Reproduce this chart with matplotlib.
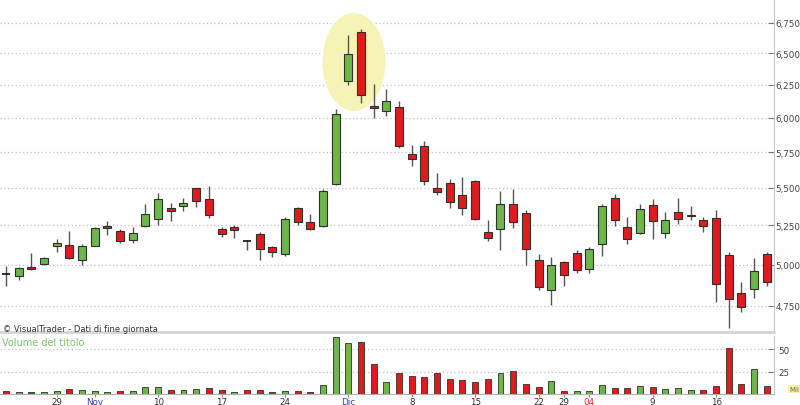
"""
Daily candlestick chart with volume panel (VisualTrader style).
Saves out.png (800x406).
"""
import matplotlib.pyplot as plt
import numpy as np
from matplotlib.patches import Ellipse
from matplotlib.ticker import FixedLocator, FuncFormatter, NullLocator

# OHLC, one value per trading day (29 Oct is index 4)
opens = [4943, 4930, 4986, 5006, 5120, 5126, 5028, 5120, 5244, 5216,
         5156, 5244, 5293, 5365, 5376, 5498, 5426, 5225, 5242, 5149,
         5197, 5111, 5064, 5365, 5275, 5244, 5528, 6281, 6673, 6090,
         6049, 6078, 5734, 5791, 5500, 5535, 5453, 5546, 5210, 5229,
         5390, 5333, 5028, 4848, 5019, 5072, 4974, 5128, 5432, 5242,
         5199, 5383, 5199, 5336, 5309, 5288, 5297, 5062, 4827, 4852, 5064]
highs = [4994, 4988, 5070, 5047, 5160, 5216, 5133, 5237, 5279, 5224,
         5239, 5390, 5466, 5399, 5432, 5500, 5516, 5242, 5255, 5153,
         5210, 5120, 5302, 5370, 5322, 5493, 6068, 6650, 6700, 6255,
         6221, 6127, 5798, 5827, 5604, 5560, 5576, 5551, 5288, 5478,
         5495, 5351, 5064, 5047, 5022, 5094, 5111, 5390, 5456, 5304,
         5390, 5424, 5340, 5431, 5376, 5302, 5351, 5077, 4893, 5043, 5079]
lows = [4867, 4905, 4966, 5000, 5081, 5037, 4996, 5120, 5185, 5139,
        5137, 5241, 5252, 5279, 5343, 5374, 5299, 5173, 5171, 5090,
        5030, 5045, 5053, 5252, 5220, 5239, 5523, 6252, 6113, 6002,
        6013, 5778, 5651, 5523, 5453, 5365, 5316, 5284, 5146, 5090,
        5235, 5000, 4848, 4754, 4871, 4950, 4950, 5053, 5244, 5128,
        5197, 5165, 5171, 5259, 5282, 5210, 4772, 4620, 4712, 4800, 4867]
closes = [4943, 4980, 4974, 5043, 5137, 5043, 5115, 5231, 5233, 5149,
          5199, 5322, 5426, 5343, 5401, 5410, 5320, 5194, 5218, 5149,
          5098, 5079, 5290, 5275, 5225, 5482, 6029, 6492, 6170, 6075,
          6125, 5793, 5701, 5546, 5475, 5403, 5367, 5293, 5167, 5390,
          5270, 5098, 4863, 5000, 4934, 4970, 5098, 5376, 5282, 5162,
          5356, 5277, 5288, 5293, 5320, 5246, 4880, 4790, 4745, 4958, 4892]
volumes = [3.4, 2.0, 2.0, 2.0, 3.4, 5.6, 4.5, 3.4, 2.2, 3.4,
           3.4, 7.8, 7.5, 4.5, 4.5, 5.2, 6.7, 4.1, 2.2, 4.1,
           4.1, 2.2, 3.4, 3.4, 2.6, 10.0, 64.0, 57.0, 58.6, 34.0,
           14.0, 24.0, 20.0, 19.4, 24.0, 17.0, 15.7, 13.8, 16.4, 23.0,
           25.8, 11.6, 7.8, 14.2, 3.7, 3.7, 3.7, 10.0, 6.3, 7.0,
           8.6, 7.8, 5.2, 7.0, 4.5, 4.9, 9.3, 51.5, 11.6, 27.6, 9.0]

price_ticks = [4750, 5000, 5250, 5500, 5750, 6000, 6250, 6500, 6750]
volume_ticks = [25, 50]
date_pos = [4, 7, 12, 17, 22, 27, 32, 37, 42, 44, 46, 51, 56]
date_labels = ["29", "Nov", "10", "17", "24", "Dic", "8", "15", "22", "29", "04", "9", "16"]
date_colors = ["#333333", "#3a3ab0", "#333333", "#333333", "#333333", "#3a3ab0",
               "#333333", "#333333", "#333333", "#333333", "#e03030", "#333333", "#333333"]

GREEN = "#6cb64a"
RED = "#df1b1d"
EDGE = "#303030"
GRID = "#c4c4c4"
W, H = 800, 406


def main():
    o = np.array(opens, float)
    hi = np.array(highs, float)
    lo = np.array(lows, float)
    c = np.array(closes, float)
    v = np.array(volumes, float)
    x = np.arange(len(o))

    fig = plt.figure(figsize=(W / 100, H / 100), dpi=100, facecolor="white")
    ax = fig.add_axes([0, 1 - 333 / H, 774 / W, 333 / H])
    axv = fig.add_axes([0, 1 - 395 / H, 774 / W, 58 / H], sharex=ax)

    # price panel
    ax.set_yscale("log")
    ax.set_ylim(4599, 6954)
    ax.set_xlim(-0.47, 60.57)
    ax.add_patch(Ellipse((354 / 774, 1 - 63 / 333), 63 / 774, 98 / 333,
                         transform=ax.transAxes, facecolor="#f5f3b6",
                         edgecolor="none", zorder=1))
    ax.vlines(x, lo, hi, color="#555555", lw=1.0, zorder=2)
    up = c > o
    down = c < o
    flat = c == o
    ax.bar(x[up], (c - o)[up], bottom=o[up], width=0.63, color=GREEN,
           edgecolor=EDGE, lw=0.8, zorder=3)
    ax.bar(x[down], (o - c)[down], bottom=c[down], width=0.63, color=RED,
           edgecolor=EDGE, lw=0.8, zorder=3)
    ax.hlines(o[flat], x[flat] - 0.32, x[flat] + 0.32, color="#111111", lw=1.2, zorder=3)

    ax.yaxis.set_major_locator(FixedLocator(price_ticks))
    ax.yaxis.set_minor_locator(NullLocator())
    ax.yaxis.set_major_formatter(FuncFormatter(lambda val, pos: f"{val:,.0f}"))
    ax.yaxis.tick_right()
    ax.tick_params(axis="y", direction="in", length=4, width=0.8, color="#777777",
                   labelsize=6.3, labelcolor="#444444", pad=1)
    ax.tick_params(axis="x", bottom=False, labelbottom=False)
    ax.grid(axis="y", linestyle=(0, (1, 2)), color=GRID, lw=0.9)
    ax.set_axisbelow(True)
    for side in ("top", "left"):
        ax.spines[side].set_visible(False)
    ax.spines["right"].set_color("#c8c8c8")
    ax.spines["bottom"].set_color("#d4d4d4")
    ax.spines["bottom"].set_linewidth(2.0)

    # volume panel
    prev = np.concatenate([[np.inf], c[:-1]])
    vcol = np.where(c > prev, GREEN, RED)
    axv.bar(x, v, width=0.47, color=vcol, edgecolor=EDGE, lw=0.6, zorder=3)
    axv.set_ylim(0, 65)
    axv.yaxis.set_major_locator(FixedLocator(volume_ticks))
    axv.yaxis.tick_right()
    axv.tick_params(axis="y", direction="in", length=4, width=0.8, color="#777777",
                    labelsize=6.3, labelcolor="#444444", pad=3)
    axv.grid(axis="y", linestyle=(0, (1, 2)), color=GRID, lw=0.9)
    axv.set_axisbelow(True)
    axv.set_xticks(date_pos)
    axv.set_xticklabels(date_labels)
    for lab, col in zip(axv.get_xticklabels(), date_colors):
        lab.set_color(col)
    axv.tick_params(axis="x", length=2, width=0.8, color="#888888", labelsize=6.3, pad=0.5)
    for side in ("top", "left"):
        axv.spines[side].set_visible(False)
    axv.spines["right"].set_color("#c8c8c8")
    axv.spines["bottom"].set_color("#b0b0b0")

    fig.text(3 / W, 1 - 330 / H, "© VisualTrader - Dati di fine giornata",
             fontsize=6, color="#333333", va="center", ha="left")
    fig.text(2 / W, 1 - 343 / H, "Volume del titolo",
             fontsize=7, color="#7cc46a", va="center", ha="left")
    fig.text(789 / W, 1 - 390 / H, "Mil", fontsize=5, color="#666666",
             va="center", ha="left",
             bbox=dict(boxstyle="square,pad=0.15", facecolor="#fbf3a0", edgecolor="none"))

    fig.savefig("out.png", dpi=100, facecolor="white")
    plt.close(fig)


if __name__ == "__main__":
    main()
